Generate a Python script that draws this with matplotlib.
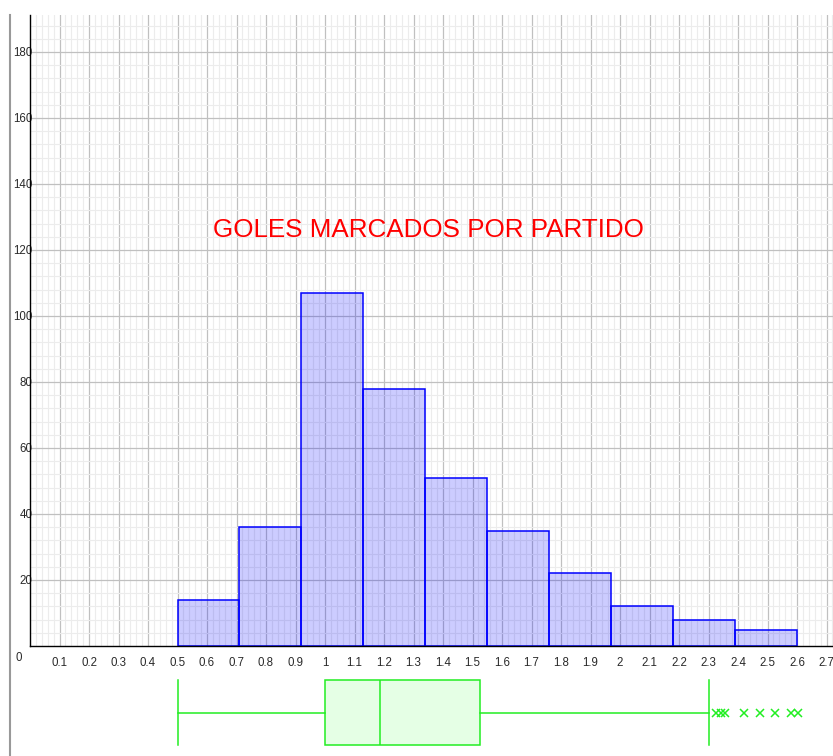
import matplotlib
matplotlib.use('Agg')
import matplotlib.pyplot as plt
from matplotlib.lines import Line2D
from matplotlib.ticker import MultipleLocator, FixedLocator
import numpy as np

# ---- data ----
bin_edges = [0.5, 0.71, 0.92, 1.13, 1.34, 1.55, 1.76, 1.97, 2.18, 2.39, 2.60]
frequencies = [14, 36, 107, 78, 51, 35, 22, 12, 8, 5]
x_ticks = [0.1, 0.2, 0.3, 0.4, 0.5, 0.6, 0.7, 0.8, 0.9, 1.0, 1.1, 1.2, 1.3, 1.4,
           1.5, 1.6, 1.7, 1.8, 1.9, 2.0, 2.1, 2.2, 2.3, 2.4, 2.5, 2.6, 2.7]
x_tick_labels = ['0.1', '0.2', '0.3', '0.4', '0.5', '0.6', '0.7', '0.8', '0.9', '1',
                 '1.1', '1.2', '1.3', '1.4', '1.5', '1.6', '1.7', '1.8', '1.9', '2',
                 '2.1', '2.2', '2.3', '2.4', '2.5', '2.6', '2.7']
y_ticks = [20, 40, 60, 80, 100, 120, 140, 160, 180]
y_tick_labels = ['20', '40', '60', '80', '100', '120', '140', '160', '180']
box_min = 0.5
box_q1 = 1.0
box_median = 1.185
box_q3 = 1.527
box_whisker_high = 2.30
outliers = [2.327, 2.341, 2.355, 2.422, 2.473, 2.527, 2.581, 2.602]
title = 'GOLES MARCADOS POR PARTIDO'

FONT = ['Liberation Sans', 'DejaVu Sans']
W, H = 833, 756
PX_PER_X = 295.0
PX_PER_Y = 3.3

fig = plt.figure(figsize=(W / 100, H / 100), dpi=100)

# main histogram axes
ax = fig.add_axes([30 / W, 1 - 646 / H, (W - 30) / W, (646 - 15) / H])
ax.set_xlim(0, (W - 30) / PX_PER_X)
ax.set_ylim(0, (646 - 15) / PX_PER_Y)

widths = np.diff(bin_edges)
ax.bar(bin_edges[:-1], frequencies, width=widths, align='edge',
       color=(0, 0, 1, 0.2), edgecolor='#0000ff', linewidth=1.1, zorder=3)

ax.xaxis.set_major_locator(FixedLocator(x_ticks))
ax.set_xticklabels(x_tick_labels)
ax.yaxis.set_major_locator(FixedLocator(y_ticks))
ax.set_yticklabels(y_tick_labels)
ax.xaxis.set_minor_locator(MultipleLocator(0.02))
ax.yaxis.set_minor_locator(MultipleLocator(4))
ax.set_axisbelow(True)
ax.grid(which='major', color='#c0c0c0', linewidth=0.9, zorder=0)
ax.grid(which='minor', color='#ececec', linewidth=0.8, zorder=0)
ax.tick_params(which='both', length=0)
ax.tick_params(axis='x', pad=8, labelsize=8.3, labelcolor='#2a2a2a')
ax.tick_params(axis='y', pad=-2, labelsize=8.3, labelcolor='#2a2a2a')
for lab in ax.get_xticklabels() + ax.get_yticklabels():
    lab.set_family(FONT)

for s in ['top', 'right']:
    ax.spines[s].set_visible(False)
ax.spines['left'].set_color('black')
ax.spines['bottom'].set_color('black')
ax.spines['left'].set_linewidth(1.0)
ax.spines['bottom'].set_linewidth(1.0)
ax.spines['left'].set_zorder(5)
ax.spines['bottom'].set_zorder(5)

ax.annotate('0', xy=(0, 0), xytext=(-11, -12), textcoords='offset pixels',
            ha='center', va='center', fontsize=8.3, color='#2a2a2a', family=FONT,
            annotation_clip=False)

ax.text(1.351, 126.1, title, color='#ff0000', fontsize=18.7, ha='center',
        va='center', family=FONT, zorder=6)

# box plot axes
bax = fig.add_axes([30 / W, 1 - 750 / H, (W - 30) / W, 75 / H])
bax.set_xlim(ax.get_xlim())
bax.set_ylim(-0.5, 0.5)
bax.axis('off')
stats = [{'med': box_median, 'q1': box_q1, 'q3': box_q3,
          'whislo': box_min, 'whishi': box_whisker_high, 'fliers': outliers}]
green = '#22ee22'
bp = bax.bxp(stats, positions=[0], widths=65 / 75, capwidths=65 / 75,
             orientation='horizontal', patch_artist=True,
             boxprops=dict(facecolor=(0, 1, 0, 0.1), edgecolor=green, linewidth=1.1),
             medianprops=dict(color=green, linewidth=1.1),
             whiskerprops=dict(color=green, linewidth=1.1),
             capprops=dict(color=green, linewidth=1.1),
             flierprops=dict(marker='x', markeredgecolor=green, markersize=5.5,
                             markeredgewidth=1.1, linestyle='none'))

# left pane border
fig.add_artist(Line2D([10 / W, 10 / W], [1 - 15 / H, 0], color='#999999',
                      linewidth=1.5, transform=fig.transFigure))

fig.savefig('out.png', dpi=100)
